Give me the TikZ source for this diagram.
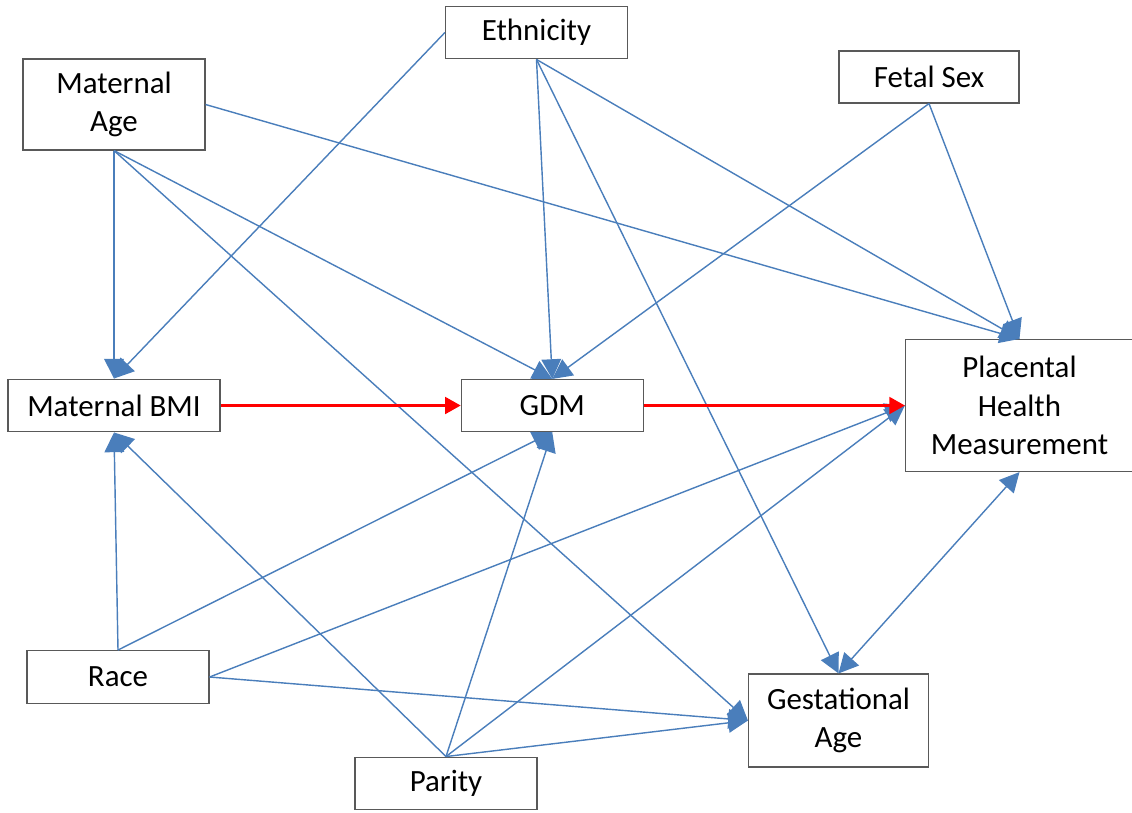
\documentclass[tikz,border=0pt]{standalone}
\usepackage{fontspec}
\setmainfont{Carlito}
\usetikzlibrary{arrows.meta, positioning}
\definecolor{CBlue}{HTML}{4A7EBB}
\definecolor{CRed}{HTML}{FF0000}
\definecolor{CGrey}{HTML}{595959}

\begin{document}
\begin{tikzpicture}[
    x=0.025cm, y=-0.025cm,
    var/.style={rectangle, draw=CGrey, fill=white, line width=0.8pt, minimum width=4.55cm, minimum height=1.32cm, align=center, inner sep=2pt, font=\fontsize{22}{27.4}\selectfont},
    arrow/.style={-{Triangle[length=14pt, width=14pt]}, line width=1pt, draw=CBlue, fill=CBlue},
    dblarrow/.style={{Triangle[length=14pt, width=14pt]}-{Triangle[length=14pt, width=14pt]}, line width=1pt, draw=CBlue, fill=CBlue},
    redarrow/.style={-{Triangle[length=11pt, width=12pt]}, line width=1.5pt, color=red},
]
\useasboundingbox (0,0) rectangle (1132,812);

% Variables
\node[var] (eth) at (536.5,32.5) {Ethnicity};
\node[var, minimum height=2.275cm] (mage) at (114,104.5) {Maternal\\Age};
\node[var, minimum width=4.5cm, minimum height=1.3cm] (fsex) at (929,77) {Fetal Sex};
\node[var, minimum width=5.3cm] (bmi) at (114,405.5) {Maternal BMI};
\node[var, minimum height=1.3cm, right=6cm of bmi] (gdm) {GDM};
\node[var, minimum width=5.7cm, minimum height=3.3cm, right=6.525cm of gdm] (phm) {Placental\\Health\\Measurement};
\node[var] (race) at (118,677) {Race};
\node[var, minimum width=4.5cm, minimum height=2.325cm] (gage) at (838.5,720.5) {Gestational\\Age};
\node[var] (par) at (446,783.5) {Parity};

% From the top
\draw[arrow] (eth.west) -- (bmi.north);
\draw[arrow] (eth.south) -- (gdm.north);
\draw[arrow] (eth.south) -- (phm.north);
\draw[arrow] (eth.south) -- (gage.north);
\draw[arrow] (mage.south) -- (bmi.north);
\draw[arrow] (mage.south) -- (gdm.north);
\draw[arrow] (mage.south) -- (gage.west);
\draw[arrow] (mage.east) -- (phm.north);
\draw[arrow] (fsex.south) -- (gdm.north);
\draw[arrow] (fsex.south) -- (phm.north);

% From the bottom
\draw[arrow] (race.north) -- (bmi.south);
\draw[arrow] (race.north) -- (gdm.south);
\draw[arrow] (race.east) -- (phm.west);
\draw[arrow] (race.east) -- (gage.west);
\draw[arrow] (par.north) -- (bmi.south);
\draw[arrow] (par.north) -- (gdm.south);
\draw[arrow] (par.north) -- (phm.west);
\draw[arrow] (par.north) -- (gage.west);

% Two-way link
\draw[dblarrow] (phm.south) -- (gage.north);

% Main path
\draw[redarrow] (bmi.east) -- (gdm.west);
\draw[redarrow] (gdm.east) -- (phm.west);

\end{tikzpicture}
\end{document}
